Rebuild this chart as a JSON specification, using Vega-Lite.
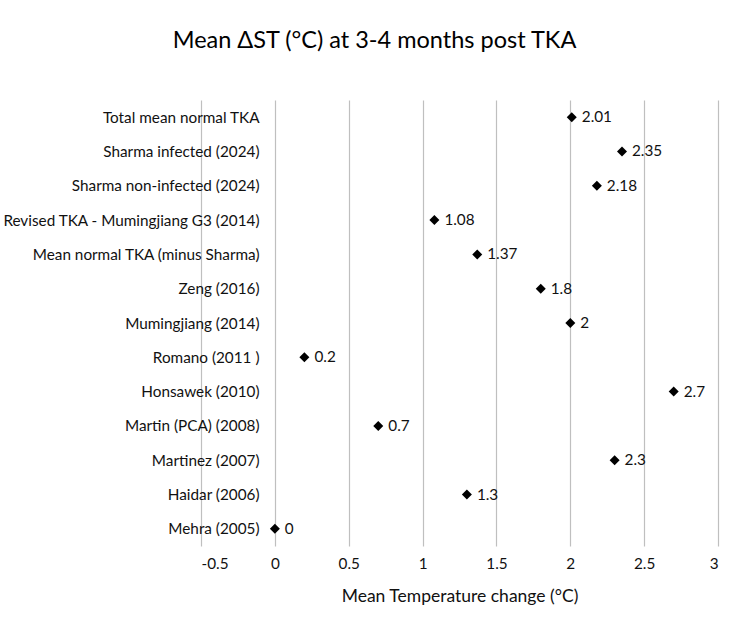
{
  "$schema": "https://vega.github.io/schema/vega-lite/v6.json",
  "width": 517,
  "height": 446,
  "autosize": {"type": "none"},
  "padding": {"left": 201, "top": 100, "right": 32, "bottom": 85},
  "background": "white",
  "title": {
    "text": "Mean ΔST (°C) at 3-4 months post TKA",
    "font": "Lato",
    "fontSize": 23.5,
    "fontWeight": "normal",
    "color": "#000000",
    "anchor": "middle",
    "dx": -85,
    "offset": 48
  },
  "data": {
    "values": [
      {"study": "Total mean normal TKA", "value": 2.01},
      {"study": "Sharma infected (2024)", "value": 2.35},
      {"study": "Sharma non-infected (2024)", "value": 2.18},
      {"study": "Revised TKA - Mumingjiang G3 (2014)", "value": 1.08},
      {"study": "Mean normal TKA (minus Sharma)", "value": 1.37},
      {"study": "Zeng (2016)", "value": 1.8},
      {"study": "Mumingjiang (2014)", "value": 2},
      {"study": "Romano (2011 )", "value": 0.2},
      {"study": "Honsawek (2010)", "value": 2.7},
      {"study": "Martin (PCA) (2008)", "value": 0.7},
      {"study": "Martinez (2007)", "value": 2.3},
      {"study": "Haidar (2006)", "value": 1.3},
      {"study": "Mehra (2005)", "value": 0}
    ]
  },
  "encoding": {
    "y": {
      "field": "study",
      "type": "nominal",
      "sort": null,
      "scale": {"paddingInner": 0, "paddingOuter": 0},
      "axis": {
        "title": null,
        "domain": false,
        "ticks": false,
        "grid": false,
        "offset": -74,
        "labelPadding": 16,
        "labelFont": "Lato",
        "labelFontSize": 15.3,
        "labelColor": "#111111",
        "labelLimit": 400
      }
    },
    "x": {
      "field": "value",
      "type": "quantitative",
      "scale": {"domain": [-0.5, 3], "nice": false, "zero": false},
      "axis": {
        "title": "Mean Temperature change (°C)",
        "titleFont": "Lato",
        "titleFontSize": 17.5,
        "titleFontWeight": "normal",
        "titleColor": "#111111",
        "titlePadding": 16,
        "values": [-0.5, 0, 0.5, 1, 1.5, 2, 2.5, 3],
        "labelExpr": "'' + datum.value",
        "domain": false,
        "ticks": false,
        "grid": true,
        "gridColor": "#bfbfbf",
        "gridWidth": 1.2,
        "labelFont": "Lato",
        "labelFontSize": 15.3,
        "labelColor": "#111111",
        "labelPadding": 10
      }
    }
  },
  "layer": [
    {
      "mark": {"type": "point", "shape": "diamond", "filled": true, "color": "#000000", "size": 100, "opacity": 1}
    },
    {
      "mark": {"type": "text", "align": "left", "dx": 10, "baseline": "middle", "font": "Lato", "fontSize": 15.3, "color": "#111111"},
      "encoding": {"text": {"field": "value", "type": "nominal"}}
    }
  ],
  "config": {"view": {"stroke": null}}
}
